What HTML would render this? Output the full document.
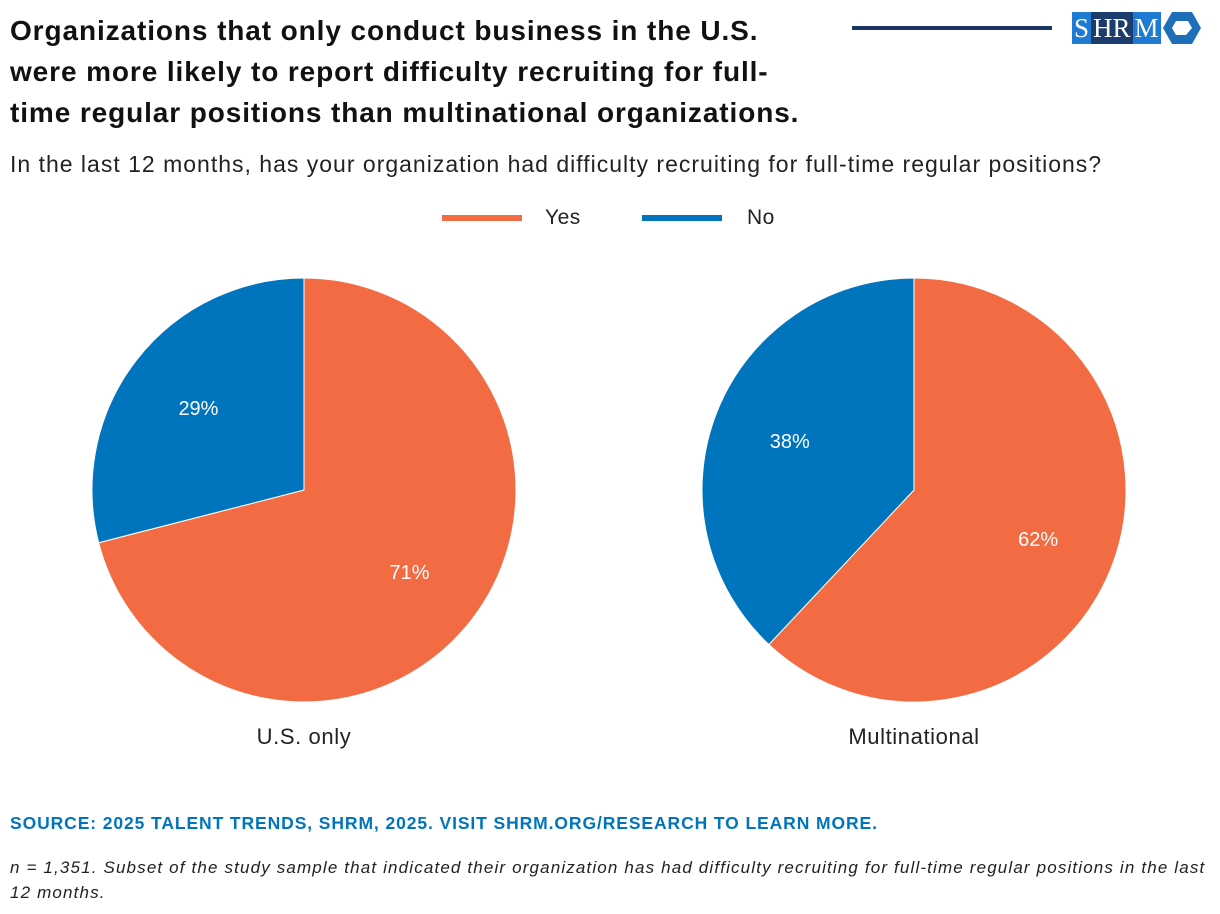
<!DOCTYPE html>
<html><head><meta charset="utf-8"><style>
body{margin:0;width:1220px;height:914px;background:#fff;font-family:"Liberation Sans",sans-serif;position:relative;overflow:hidden;color:#111}
.t{position:absolute;left:10px;top:10px;font-size:28px;font-weight:bold;line-height:41px;letter-spacing:0.9px;white-space:nowrap}
.sub{position:absolute;left:10px;top:151px;font-size:23px;letter-spacing:1px;color:#222;white-space:nowrap}
.src{position:absolute;left:10px;top:813px;font-size:17.5px;letter-spacing:0.9px;font-weight:bold;color:#0075BE;white-space:nowrap}
.note{position:absolute;left:10px;top:855px;font-size:17px;letter-spacing:1.15px;font-style:italic;line-height:25px;color:#222;white-space:nowrap}
</style></head><body>
<div class="t">Organizations that only conduct business in the U.S.<br>were more likely to report difficulty recruiting for full-<br>time regular positions than multinational organizations.</div>
<div style="position:absolute;left:852px;top:26px;width:200px;height:4px;background:#1d3461"></div>
<div style="position:absolute;left:1072px;top:12px;height:32px;display:flex;font-family:'Liberation Serif',serif;font-size:27px;color:#fff;line-height:32px">
<span style="background:#1f7ad2;padding:0 2px">S</span><span style="background:#1d3c6e;padding:0 2px">HR</span><span style="background:#1f7ad2;padding:0 2px">M</span></div>
<svg style="position:absolute;left:1162px;top:11px" width="40" height="34"><polygon points="10,1 30,1 39,17 30,33 10,33 1,17" fill="#1f6fb8"/><polygon points="14,10 26,10 30,17 24,24 14,24 10,17" fill="#fff"/></svg>
<div class="sub">In the last 12 months, has your organization had difficulty recruiting for full-time regular positions?</div>
<svg id="c" width="1220" height="914" style="position:absolute;left:0;top:0"></svg>
<div class="src">SOURCE: 2025 TALENT TRENDS, SHRM, 2025. VISIT SHRM.ORG/RESEARCH TO LEARN MORE.</div>
<div class="note">n = 1,351. Subset of the study sample that indicated their organization has had difficulty recruiting for full-time regular positions in the last<br>12 months.</div>
<script>
const categories=["U.S. only","Multinational"];
const seriesNames=["Yes","No"];
const yesValues=[71,62];
const noValues=[29,38];
const colors=["#F26B43","#0075BE"];
const svg=document.getElementById('c');const NS="http://www.w3.org/2000/svg";
function mk(t,a){const e=document.createElementNS(NS,t);for(const k in a)e.setAttribute(k,a[k]);svg.appendChild(e);return e;}
[[442,545],[642,747]].forEach((p,i)=>{
const r=mk('rect',{x:p[0],y:215,width:80,height:6,fill:colors[i]});


const t=mk('text',{x:p[1],y:224,'font-size':21,'letter-spacing':0.5,fill:'#222','font-family':'Liberation Sans'});t.textContent=seriesNames[i];


});
const centers=[304,914],cy=490,R=212;
function pt(cx,f,r){const a=f*2*Math.PI;return [cx+r*Math.sin(a),cy-r*Math.cos(a)];}
categories.forEach((c,i)=>{
const cx=centers[i];const vals=[yesValues[i],noValues[i]];const tot=vals[0]+vals[1];let acc=0;
vals.forEach((v,j)=>{
const f0=acc/tot,f1=(acc+v)/tot;acc+=v;
const p0=pt(cx,f0,R),p1=pt(cx,f1,R);const large=(f1-f0)>0.5?1:0;
const p=mk('path',{d:`M${cx},${cy}L${p0[0]},${p0[1]}A${R},${R} 0 ${large} 1 ${p1[0]},${p1[1]}Z`,fill:colors[j],stroke:'#fff','stroke-width':1});


const m=pt(cx,(f0+f1)/2,R*0.63);
const t=mk('text',{x:m[0],y:m[1]+7,'font-size':20,fill:'#fff','text-anchor':'middle','font-family':'Liberation Sans'});t.textContent=v+'%';


});
const t=mk('text',{x:cx,y:744,'font-size':22,'letter-spacing':0.6,fill:'#222','text-anchor':'middle','font-family':'Liberation Sans'});t.textContent=c;


});
</script>
</body></html>
